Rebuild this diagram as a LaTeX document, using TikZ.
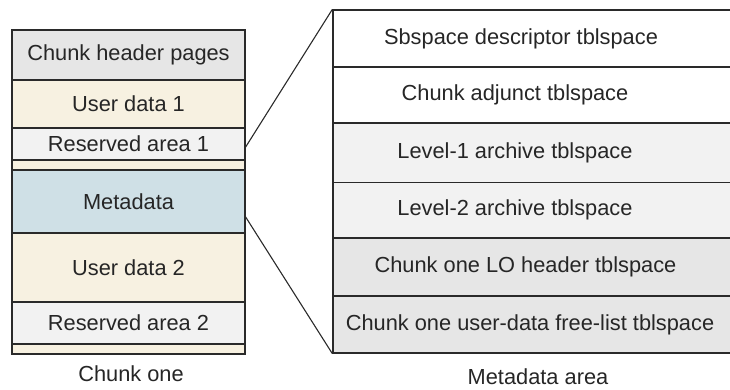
\documentclass[tikz,border=0pt]{standalone}
\usepackage{fontspec}
\setmainfont{Liberation Sans}
\usepackage{xcolor}
\usepackage{tikz}
\definecolor{hdrgray}{HTML}{E6E6E6}
\definecolor{usercream}{HTML}{F7F1E1}
\definecolor{resgray}{HTML}{F2F2F2}
\definecolor{metablue}{HTML}{CFE0E6}
\definecolor{edge}{HTML}{2A2A2A}

\begin{document}
\begin{tikzpicture}[x=1pt,y=-1pt,font=\fontsize{21.8}{26}\selectfont,
blk/.style={draw=edge,line width=1.3pt,rectangle,inner sep=0pt,minimum width=233pt,text=black!85},
row/.style={blk,minimum width=400pt},
txt/.style={inner sep=0pt,text=black!85}]
\useasboundingbox (0,0) rectangle (730,390);
% chunk one
\node[blk,fill=hdrgray,minimum height=50pt] (hdr) at (128.5,55) {Chunk header pages};
\node[blk,fill=usercream,minimum height=48pt] (ud1) at (128.5,104) {User data 1};
\node[blk,fill=resgray,minimum height=32pt] (res1) at (128.5,144) {Reserved area 1};
\node[blk,fill=usercream,minimum height=10pt] (gap1) at (128.5,165) {};
\node[blk,fill=metablue,minimum height=63pt] (meta) at (128.5,201.5) {Metadata};
\node[blk,fill=usercream,minimum height=69pt] (ud2) at (128.5,267.5) {User data 2};
\node[blk,fill=resgray,minimum height=42pt] (res2) at (128.5,323) {Reserved area 2};
\node[blk,fill=usercream,minimum height=10pt] (gap2) at (128.5,349) {};
\node[txt] (chunk) at (131,374) {Chunk one};
% metadata area
\node[row,fill=white,minimum height=57pt] (sbs) at (533,38.5) {};
\node[row,fill=white,minimum height=56pt] (adj) at (533,95) {};
\node[row,fill=resgray,minimum height=59.5pt] (lev1) at (533,152.75) {};
\node[row,fill=resgray,minimum height=55.5pt] (lev2) at (533,210.25) {};
\node[row,fill=hdrgray,minimum height=58pt] (lohdr) at (533,267) {};
\node[row,fill=hdrgray,minimum height=57pt] (free) at (533,324.5) {};
\node[txt] (sbst) at (521,38.5) {Sbspace descriptor tblspace};
\node[txt] (adjt) at (515,95) {Chunk adjunct tblspace};
\node[txt] (lev1t) at (515,152.75) {Level-1 archive tblspace};
\node[txt] (lev2t) at (515,210.25) {Level-2 archive tblspace};
\node[txt] (lohdrt) at (525.5,267) {Chunk one LO header tblspace};
\node[txt] (freet) at (530,324.5) {Chunk one user-data free-list tblspace};
\node[txt] (area) at (538,377) {Metadata area};
% zoom lines
\draw[edge,line width=1.1pt] ([yshift=-3pt]res1.east) -- (sbs.north west);
\draw[edge,line width=1.1pt] ([yshift=-15.5pt]meta.east) -- (free.south west);
\end{tikzpicture}
\end{document}
